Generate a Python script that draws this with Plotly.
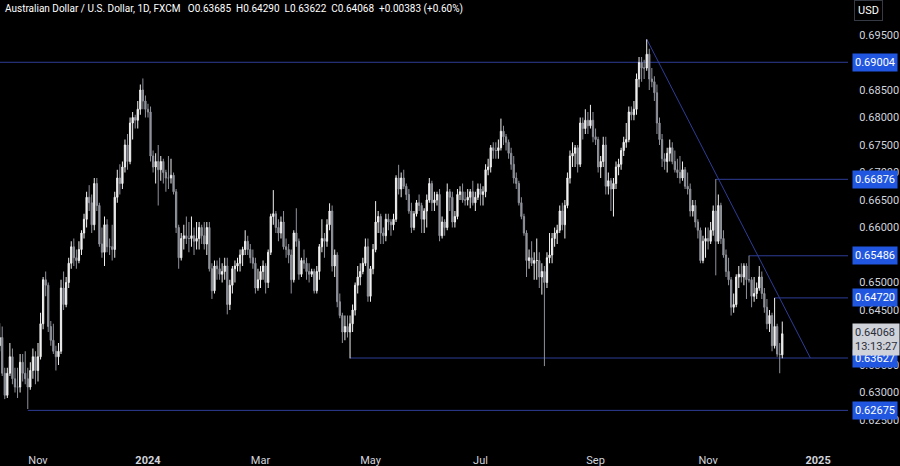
import pandas as pd
import plotly.graph_objects as go

# ---------------- data (prices in pips, 1 pip = 0.0001) ----------------
# each row: (open, high, low, close)
oct23 = [(6385, 6426, 6375, 6400), (6400, 6420, 6330, 6335), (6335, 6345, 6288, 6295),
         (6295, 6345, 6290, 6335), (6335, 6390, 6330, 6365), (6365, 6380, 6315, 6325),
         (6325, 6345, 6300, 6310), (6310, 6345, 6290, 6310), (6310, 6370, 6300, 6355),
         (6355, 6370, 6320, 6335), (6335, 6375, 6315, 6325), (6325, 6345, 6270, 6310),
         (6310, 6355, 6305, 6340), (6340, 6380, 6325, 6365), (6365, 6375, 6315, 6340)]
nov23 = [(6340, 6390, 6320, 6365), (6365, 6445, 6360, 6425), (6425, 6510, 6415, 6505),
         (6505, 6520, 6475, 6495), (6495, 6500, 6410, 6420), (6420, 6430, 6385, 6395),
         (6395, 6425, 6370, 6375), (6375, 6385, 6340, 6365), (6365, 6390, 6350, 6375),
         (6375, 6505, 6370, 6490), (6490, 6520, 6450, 6460), (6460, 6510, 6455, 6500),
         (6500, 6545, 6490, 6535), (6535, 6575, 6525, 6565), (6565, 6580, 6530, 6545),
         (6545, 6560, 6525, 6540), (6540, 6575, 6535, 6560), (6560, 6595, 6550, 6590),
         (6590, 6625, 6580, 6615), (6615, 6665, 6600, 6655), (6655, 6677, 6630, 6645),
         (6645, 6660, 6590, 6605)]
dec23 = [(6605, 6690, 6595, 6680), (6680, 6690, 6630, 6640), (6640, 6645, 6565, 6570),
         (6570, 6600, 6545, 6555), (6555, 6620, 6530, 6605), (6605, 6615, 6555, 6565),
         (6565, 6580, 6550, 6565), (6565, 6605, 6540, 6560), (6560, 6665, 6545, 6655),
         (6655, 6705, 6645, 6690), (6690, 6715, 6660, 6680), (6680, 6720, 6670, 6710),
         (6710, 6760, 6700, 6750), (6750, 6770, 6705, 6720), (6720, 6800, 6715, 6790),
         (6790, 6810, 6760, 6800), (6800, 6805, 6780, 6795), (6795, 6830, 6780, 6815),
         (6815, 6860, 6805, 6850), (6850, 6871, 6815, 6830), (6830, 6840, 6800, 6815)]
jan24 = [(6815, 6825, 6800, 6810), (6810, 6820, 6720, 6730), (6730, 6740, 6700, 6710),
         (6710, 6735, 6680, 6720), (6720, 6750, 6640, 6705), (6705, 6730, 6685, 6720),
         (6720, 6725, 6680, 6700), (6700, 6705, 6665, 6690), (6690, 6730, 6670, 6690),
         (6690, 6725, 6680, 6695), (6695, 6700, 6660, 6665), (6665, 6670, 6590, 6600),
         (6600, 6605, 6525, 6545), (6545, 6590, 6540, 6580), (6580, 6605, 6560, 6585),
         (6585, 6620, 6570, 6580), (6580, 6610, 6555, 6580), (6580, 6620, 6565, 6585),
         (6585, 6600, 6550, 6575), (6575, 6610, 6560, 6580), (6580, 6610, 6560, 6600),
         (6600, 6605, 6570, 6585), (6585, 6610, 6560, 6570)]
feb24 = [(6570, 6610, 6550, 6600), (6600, 6610, 6520, 6525), (6525, 6535, 6470, 6485),
         (6485, 6540, 6480, 6530), (6530, 6540, 6505, 6525), (6525, 6545, 6505, 6515),
         (6515, 6535, 6500, 6520), (6520, 6545, 6505, 6530), (6530, 6545, 6442, 6460),
         (6460, 6505, 6450, 6495), (6495, 6530, 6480, 6525), (6525, 6540, 6500, 6530),
         (6530, 6545, 6520, 6535), (6535, 6560, 6520, 6550), (6550, 6565, 6530, 6560),
         (6560, 6595, 6550, 6575), (6575, 6585, 6550, 6560), (6560, 6570, 6535, 6545),
         (6545, 6560, 6525, 6535), (6535, 6545, 6480, 6490), (6490, 6525, 6485, 6505)]
mar24 = [(6505, 6530, 6490, 6520), (6520, 6540, 6505, 6530), (6530, 6535, 6480, 6500),
         (6500, 6560, 6490, 6555), (6555, 6625, 6550, 6620), (6620, 6668, 6605, 6625),
         (6625, 6630, 6590, 6600), (6600, 6615, 6575, 6590), (6590, 6620, 6580, 6610),
         (6610, 6630, 6560, 6565), (6565, 6580, 6545, 6560), (6560, 6570, 6535, 6550),
         (6550, 6560, 6480, 6505), (6505, 6595, 6500, 6590), (6590, 6635, 6565, 6575),
         (6575, 6580, 6505, 6515), (6515, 6545, 6510, 6540), (6540, 6560, 6525, 6535),
         (6535, 6545, 6505, 6520), (6520, 6535, 6500, 6515), (6515, 6525, 6510, 6520)]
apr24 = [(6520, 6525, 6480, 6485), (6485, 6530, 6480, 6520), (6520, 6570, 6505, 6565),
         (6565, 6615, 6555, 6580), (6580, 6590, 6545, 6575), (6575, 6615, 6565, 6605),
         (6605, 6644, 6595, 6630), (6630, 6640, 6520, 6530), (6530, 6560, 6510, 6550),
         (6550, 6555, 6455, 6465), (6465, 6480, 6435, 6440), (6440, 6445, 6390, 6410),
         (6410, 6440, 6395, 6420), (6420, 6440, 6400, 6410), (6410, 6440, 6362, 6425),
         (6425, 6460, 6410, 6450), (6450, 6500, 6440, 6495), (6495, 6530, 6480, 6510),
         (6510, 6535, 6495, 6520), (6520, 6545, 6515, 6535), (6535, 6580, 6530, 6565),
         (6565, 6580, 6465, 6475)]
may24 = [(6475, 6530, 6465, 6525), (6525, 6570, 6515, 6560), (6560, 6648, 6555, 6610),
         (6610, 6630, 6590, 6620), (6620, 6625, 6570, 6590), (6590, 6600, 6570, 6585),
         (6585, 6625, 6575, 6615), (6615, 6625, 6595, 6610), (6610, 6615, 6585, 6605),
         (6605, 6625, 6595, 6615), (6615, 6695, 6610, 6690), (6690, 6714, 6660, 6670),
         (6670, 6700, 6655, 6690), (6690, 6705, 6670, 6675), (6675, 6680, 6650, 6660),
         (6660, 6670, 6625, 6630), (6630, 6645, 6590, 6600), (6600, 6630, 6595, 6625),
         (6625, 6650, 6620, 6645), (6645, 6660, 6630, 6640), (6640, 6645, 6590, 6615),
         (6615, 6635, 6590, 6630), (6630, 6660, 6600, 6650)]
jun24 = [(6650, 6690, 6645, 6680), (6680, 6685, 6630, 6645), (6645, 6665, 6630, 6650),
         (6650, 6665, 6640, 6660), (6660, 6670, 6575, 6585), (6585, 6620, 6580, 6610),
         (6610, 6615, 6585, 6600), (6600, 6680, 6595, 6665), (6665, 6670, 6630, 6655),
         (6655, 6665, 6600, 6610), (6610, 6630, 6600, 6620), (6620, 6670, 6615, 6660),
         (6660, 6675, 6650, 6665), (6665, 6680, 6645, 6650), (6650, 6665, 6640, 6650),
         (6650, 6670, 6640, 6655), (6655, 6670, 6635, 6665), (6665, 6685, 6640, 6645),
         (6645, 6665, 6630, 6655), (6655, 6680, 6650, 6670)]
jul24 = [(6670, 6680, 6640, 6660), (6660, 6675, 6640, 6665), (6665, 6715, 6655, 6705),
         (6705, 6725, 6695, 6710), (6710, 6750, 6700, 6745), (6745, 6755, 6725, 6740),
         (6740, 6755, 6725, 6740), (6740, 6760, 6725, 6745), (6745, 6798, 6740, 6775),
         (6775, 6785, 6750, 6765), (6765, 6770, 6740, 6755), (6755, 6760, 6725, 6735),
         (6735, 6745, 6705, 6715), (6715, 6730, 6680, 6690), (6690, 6700, 6670, 6680),
         (6680, 6685, 6640, 6645), (6645, 6655, 6615, 6620), (6620, 6625, 6585, 6590),
         (6590, 6595, 6510, 6540), (6540, 6560, 6525, 6545), (6545, 6575, 6530, 6535),
         (6535, 6555, 6505, 6540), (6540, 6580, 6505, 6540)]
aug24 = [(6540, 6555, 6490, 6510), (6510, 6535, 6478, 6520), (6520, 6530, 6348, 6500),
         (6500, 6555, 6490, 6545), (6545, 6590, 6535, 6550), (6550, 6590, 6535, 6580),
         (6580, 6600, 6565, 6590), (6590, 6605, 6570, 6595), (6595, 6640, 6590, 6630),
         (6630, 6645, 6595, 6605), (6605, 6650, 6580, 6640), (6640, 6700, 6635, 6690),
         (6690, 6740, 6680, 6730), (6730, 6755, 6710, 6735), (6735, 6750, 6710, 6745),
         (6745, 6750, 6700, 6715), (6715, 6800, 6710, 6790), (6790, 6800, 6760, 6780),
         (6780, 6815, 6770, 6795), (6795, 6810, 6770, 6785), (6785, 6823, 6780, 6795),
         (6795, 6810, 6755, 6765)]
sep24 = [(6765, 6780, 6750, 6760), (6760, 6765, 6700, 6710), (6710, 6730, 6690, 6720),
         (6720, 6765, 6710, 6750), (6750, 6765, 6660, 6675), (6675, 6700, 6660, 6685),
         (6685, 6690, 6630, 6670), (6670, 6690, 6620, 6680), (6680, 6720, 6670, 6710),
         (6710, 6725, 6695, 6715), (6715, 6745, 6705, 6740), (6740, 6765, 6730, 6755),
         (6755, 6790, 6745, 6760), (6760, 6820, 6755, 6810), (6810, 6820, 6795, 6805),
         (6805, 6830, 6795, 6815), (6815, 6880, 6805, 6870), (6870, 6910, 6855, 6900),
         (6900, 6910, 6865, 6890), (6890, 6905, 6870, 6890), (6890, 6942, 6885, 6915)]
oct24 = [(6915, 6925, 6850, 6870), (6870, 6890, 6855, 6865), (6865, 6875, 6830, 6845),
         (6845, 6860, 6770, 6790), (6790, 6800, 6750, 6760), (6760, 6770, 6710, 6725),
         (6725, 6735, 6705, 6720), (6720, 6745, 6700, 6735), (6735, 6760, 6720, 6745),
         (6745, 6755, 6715, 6720), (6720, 6740, 6700, 6705), (6705, 6725, 6690, 6700),
         (6700, 6730, 6680, 6690), (6690, 6720, 6685, 6705), (6705, 6710, 6670, 6675),
         (6675, 6700, 6660, 6670), (6670, 6680, 6620, 6630), (6630, 6650, 6620, 6640),
         (6640, 6650, 6600, 6610), (6610, 6615, 6580, 6595), (6595, 6600, 6535, 6540),
         (6540, 6585, 6535, 6575), (6575, 6600, 6545, 6580)]
nov24 = [(6580, 6600, 6560, 6575), (6575, 6610, 6570, 6595), (6595, 6640, 6585, 6630),
         (6630, 6688, 6513, 6575), (6575, 6660, 6570, 6640), (6640, 6645, 6570, 6580),
         (6580, 6595, 6545, 6550), (6550, 6560, 6510, 6520), (6520, 6545, 6495, 6505),
         (6505, 6510, 6440, 6455), (6455, 6480, 6445, 6460), (6460, 6515, 6455, 6510),
         (6510, 6530, 6490, 6515), (6515, 6535, 6500, 6510), (6510, 6535, 6495, 6530),
         (6530, 6535, 6470, 6505), (6505, 6549, 6500, 6505), (6505, 6510, 6455, 6475),
         (6475, 6510, 6465, 6480), (6480, 6500, 6470, 6490), (6490, 6530, 6485, 6510)]
dec24 = [(6510, 6520, 6470, 6480), (6480, 6490, 6445, 6455), (6455, 6470, 6415, 6425),
         (6425, 6450, 6410, 6440), (6440, 6445, 6375, 6385), (6385, 6472, 6380, 6420),
         (6420, 6425, 6365, 6370), (6370, 6390, 6335, 6369), (6368.5, 6429, 6362.2, 6406.8)]

first_day = "2023-10-11"
last_day = "2024-12-12"

# horizontal levels and where they begin
level_values = [0.69004, 0.66876, 0.65486, 0.64720, 0.63627, 0.62675]
level_starts = [None, "2024-11-06", "2024-11-25", "2024-12-09", "2024-04-19", "2023-10-26"]
trend_dates = ["2024-09-30", "2024-12-27"]
trend_prices = [0.69424, 0.63627]

last_price = 0.64068
countdown = "13:13:27"

# price-scale ticks (those fully hidden under a label box are left out)
y_ticks = [0.625, 0.630, 0.635, 0.645, 0.650, 0.660,
           0.665, 0.670, 0.675, 0.680, 0.685, 0.695]
x_tick_dates = ["2023-11-01", "2024-01-01", "2024-03-01", "2024-05-01",
                "2024-07-01", "2024-09-02", "2024-11-01", "2025-01-01"]
x_tick_labels = ["Nov", "<b>2024</b>", "Mar", "May", "Jul", "Sep", "Nov", "<b>2025</b>"]

header = ("Australian Dollar / U.S. Dollar, 1D, FXCM&nbsp;&nbsp;&nbsp;O0.63685&nbsp;&nbsp;H0.64290"
          "&nbsp;&nbsp;L0.63622&nbsp;&nbsp;C0.64068&nbsp;&nbsp;+0.00383 (+0.60%)")

# ---------------- build ----------------
months = [oct23, nov23, dec23, jan24, feb24, mar24, apr24, may24, jun24,
          jul24, aug24, sep24, oct24, nov24, dec24]
rows = [r for m in months for r in m]
dates = pd.bdate_range(first_day, last_day)
assert len(dates) == len(rows), (len(dates), len(rows))

opens = [r[0] / 1e4 for r in rows]
highs = [r[1] / 1e4 for r in rows]
lows = [r[2] / 1e4 for r in rows]
closes = [r[3] / 1e4 for r in rows]

x_left = "2023-10-11 03:20"
x_right = "2025-01-16 16:48"
y_range = [0.620273, 0.701364]

LINE = "#2e3d96"
BLUE = "#2157e0"
TXT = "#d1d4dc"

fig = go.Figure()
fig.add_trace(go.Candlestick(
    x=dates, open=opens, high=highs, low=lows, close=closes,
    increasing=dict(line=dict(color="#f0f0f0", width=1), fillcolor="#f0f0f0"),
    decreasing=dict(line=dict(color="#8f929b", width=1), fillcolor="#8f929b"),
    whiskerwidth=0, showlegend=False, hoverinfo="skip",
))

shapes = []
for val, start in zip(level_values, level_starts):
    shapes.append(dict(type="line", xref="x", yref="y",
                       x0=start if start else x_left, x1=x_right, y0=val, y1=val,
                       line=dict(color=LINE, width=1), layer="below"))
shapes.append(dict(type="line", xref="x", yref="y",
                   x0=trend_dates[0], x1=trend_dates[1],
                   y0=trend_prices[0], y1=trend_prices[1],
                   line=dict(color=LINE, width=1), layer="below"))

annotations = []
for val in level_values:
    annotations.append(dict(xref="paper", yref="y", x=1, y=val, xanchor="left", yanchor="middle",
                            xshift=4, text=f"{val:.5f}", showarrow=False,
                            font=dict(color="white", size=11, family="Roboto"),
                            bgcolor=BLUE, borderpad=2))
annotations.append(dict(xref="paper", yref="y", x=1, y=last_price, xanchor="left", yanchor="middle",
                        xshift=4, yshift=-6, text=f"{last_price:.5f}<br>{countdown}", showarrow=False,
                        align="left",
                        font=dict(color="#2a2e39", size=11, family="Roboto"),
                        bgcolor="#cfd2d9", borderpad=2))
annotations.append(dict(xref="paper", yref="paper", x=1, y=1, xanchor="left", yanchor="top",
                        xshift=6, yshift=0, text="USD", showarrow=False,
                        font=dict(color="white", size=11, family="Roboto"),
                        bgcolor="black", bordercolor="#363a45", borderwidth=1, borderpad=3))
annotations.append(dict(xref="paper", yref="paper", x=0, y=1, xanchor="left", yanchor="top",
                        xshift=3, yshift=-1, text=header, showarrow=False,
                        font=dict(color="white", size=10, family="Roboto")))

fig.update_layout(
    width=900, height=466,
    margin=dict(l=0, r=52, t=0, b=20),
    paper_bgcolor="black", plot_bgcolor="black",
    shapes=shapes, annotations=annotations,
    showlegend=False,
    xaxis=dict(type="date", range=[x_left, x_right],
               rangebreaks=[dict(bounds=["sat", "mon"])],
               rangeslider=dict(visible=False),
               showgrid=False, zeroline=False, showline=False,
               tickvals=x_tick_dates, ticktext=x_tick_labels,
               tickfont=dict(color=TXT, size=11, family="Roboto"),
               ticks="outside", ticklen=4, tickcolor="black"),
    yaxis=dict(side="right", range=y_range, showgrid=False, zeroline=False, showline=False,
               tickvals=y_ticks, ticktext=[f"{v:.5f}" for v in y_ticks],
               tickfont=dict(color=TXT, size=11, family="Roboto"),
               ticks="outside", ticklen=8, tickcolor="black"),
)

fig.write_html("out.html", config={"displayModeBar": False},
               post_script="document.body.style.margin='0px';document.body.style.background='black';")
